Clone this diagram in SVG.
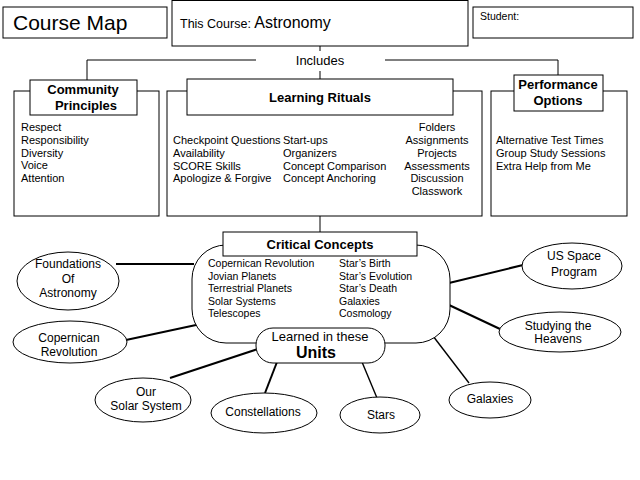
<svg xmlns="http://www.w3.org/2000/svg" width="640" height="480" viewBox="0 0 640 480">
<style>
text{font-family:"Liberation Sans",Arial,sans-serif;fill:#000}
.box{fill:#fff;stroke:#000;stroke-width:1}
.ell{fill:#fff;stroke:#000;stroke-width:1}
.thin{stroke:#000;stroke-width:1;fill:none}
.thick{stroke:#000;stroke-width:2;fill:none}
.med{stroke:#000;stroke-width:1.4;fill:none}
.hd{font-weight:bold;font-size:13px;text-anchor:middle}
.li{font-size:11px}
.cc{font-size:10.5px}
.el{font-size:12px;text-anchor:middle}
</style>
<rect width="640" height="480" fill="#fff"/>
<g id="connectors">
<polyline class="thin" points="87,80 87,60 256,60"/>
<polyline class="thin" points="385,60 558,60 558,75"/>
<line class="thin" x1="320" y1="46" x2="320" y2="51"/>
<line class="thin" x1="320" y1="71" x2="320" y2="79"/>
<line class="thin" x1="320" y1="216" x2="320" y2="232"/>
<line class="thick" x1="116" y1="264" x2="194" y2="264"/>
<line class="thick" x1="126" y1="340" x2="196" y2="325"/>
<line class="thick" x1="170" y1="378" x2="258" y2="349"/>
<line class="thick" x1="265" y1="393" x2="277" y2="362"/>
<line class="med" x1="377" y1="398" x2="362" y2="362"/>
<line class="med" x1="469" y1="383" x2="433" y2="336"/>
<line class="thick" x1="449" y1="283" x2="523" y2="265"/>
<line class="thick" x1="449" y1="305" x2="500" y2="329"/>
</g>
<g id="course-map">
<rect class="box" x="3" y="7" width="164" height="31"/>
<text x="13" y="30" font-size="21">Course Map</text>
</g>
<g id="this-course">
<rect class="box" x="172" y="0.5" width="296" height="45.5"/>
<text x="180" y="28" font-size="12.5">This Course: <tspan font-size="16">Astronomy</tspan></text>
</g>
<g id="student">
<rect class="box" x="473" y="7" width="160" height="31"/>
<text x="480" y="20" font-size="10.5">Student:</text>
</g>
<g id="includes">
<text x="320" y="65" font-size="13" text-anchor="middle">Includes</text>
</g>
<g id="community-principles">
<rect class="box" x="14" y="91" width="145" height="125"/>
<rect class="box" x="30" y="80" width="107" height="35"/>
<text class="hd" x="83" y="94" font-size="12.5">Community</text>
<text class="hd" x="86" y="110" font-size="12.5">Principles</text>
<text class="li" x="21" y="131">Respect</text>
<text class="li" x="21" y="144">Responsibility</text>
<text class="li" x="21" y="157">Diversity</text>
<text class="li" x="21" y="169">Voice</text>
<text class="li" x="21" y="182">Attention</text>
</g>
<g id="learning-rituals">
<rect class="box" x="167" y="91" width="315" height="125"/>
<rect class="box" x="187" y="79" width="266" height="36"/>
<text class="hd" x="320" y="102" font-size="13.5">Learning Rituals</text>
<text class="li" x="173" y="144">Checkpoint Questions</text>
<text class="li" x="173" y="157">Availability</text>
<text class="li" x="173" y="170">SCORE Skills</text>
<text class="li" x="173" y="182">Apologize &amp; Forgive</text>
<text class="li" x="283" y="144">Start-ups</text>
<text class="li" x="283" y="157">Organizers</text>
<text class="li" x="283" y="170">Concept Comparison</text>
<text class="li" x="283" y="182">Concept Anchoring</text>
<g text-anchor="middle">
<text class="li" x="437" y="131">Folders</text>
<text class="li" x="437" y="144">Assignments</text>
<text class="li" x="437" y="157">Projects</text>
<text class="li" x="437" y="170">Assessments</text>
<text class="li" x="437" y="182">Discussion</text>
<text class="li" x="437" y="195">Classwork</text>
</g>
</g>
<g id="performance-options">
<rect class="box" x="491" y="91" width="136" height="125"/>
<rect class="box" x="514" y="75" width="89" height="36"/>
<text class="hd" x="558" y="89" font-size="13">Performance</text>
<text class="hd" x="558" y="105" font-size="13">Options</text>
<text class="li" x="496" y="144">Alternative Test Times</text>
<text class="li" x="496" y="157">Group Study Sessions</text>
<text class="li" x="496" y="170">Extra Help from Me</text>
</g>
<g id="critical-concepts">
<rect class="box" x="192" y="245" width="258" height="98" rx="34" ry="34"/>
<rect class="box" x="223" y="232" width="194" height="24"/>
<text class="hd" x="320" y="249" font-size="13.5">Critical Concepts</text>
<text class="cc" x="208" y="267">Copernican Revolution</text>
<text class="cc" x="208" y="280">Jovian Planets</text>
<text class="cc" x="208" y="292">Terrestrial Planets</text>
<text class="cc" x="208" y="305">Solar Systems</text>
<text class="cc" x="208" y="317">Telescopes</text>
<text class="cc" x="339" y="267">Star’s Birth</text>
<text class="cc" x="339" y="280">Star’s Evolution</text>
<text class="cc" x="339" y="292">Star’s Death</text>
<text class="cc" x="339" y="305">Galaxies</text>
<text class="cc" x="339" y="317">Cosmology</text>
</g>
<g id="units">
<rect class="box" x="256" y="328" width="129" height="35" rx="17" ry="17"/>
<text x="320" y="341" font-size="13" text-anchor="middle">Learned in these</text>
<text x="316" y="358" font-size="16" font-weight="bold" text-anchor="middle">Units</text>
</g>
<g id="foundations">
<ellipse class="ell" cx="68" cy="281" rx="51" ry="29"/>
<text class="el" x="68" y="268">Foundations</text>
<text class="el" x="68" y="283">Of</text>
<text class="el" x="68" y="297">Astronomy</text>
</g>
<g id="copernican">
<ellipse class="ell" cx="70" cy="342" rx="57" ry="21"/>
<text class="el" x="69" y="342">Copernican</text>
<text class="el" x="69" y="356">Revolution</text>
</g>
<g id="solar-system">
<ellipse class="ell" cx="143" cy="400" rx="48" ry="22"/>
<text class="el" x="146" y="396">Our</text>
<text class="el" x="146" y="410">Solar System</text>
</g>
<g id="constellations">
<ellipse class="ell" cx="264" cy="413" rx="53" ry="20"/>
<text class="el" x="263" y="416">Constellations</text>
</g>
<g id="stars">
<ellipse class="ell" cx="380" cy="415" rx="40" ry="18"/>
<text class="el" x="381" y="419">Stars</text>
</g>
<g id="galaxies">
<ellipse class="ell" cx="490" cy="400" rx="41" ry="18"/>
<text class="el" x="490" y="403">Galaxies</text>
</g>
<g id="us-space">
<ellipse class="ell" cx="572" cy="266" rx="50" ry="23"/>
<text class="el" x="574" y="260">US Space</text>
<text class="el" x="574" y="276">Program</text>
</g>
<g id="studying">
<ellipse class="ell" cx="560" cy="332" rx="61" ry="20"/>
<text class="el" x="558" y="330">Studying the</text>
<text class="el" x="558" y="343">Heavens</text>
</g>
</svg>
